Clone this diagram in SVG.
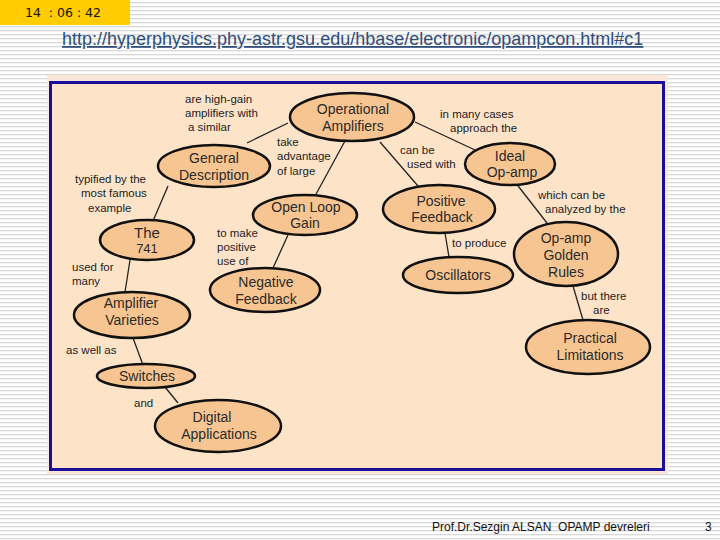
<svg xmlns="http://www.w3.org/2000/svg" width="720" height="540" viewBox="0 0 720 540">
<defs>
<pattern id="stripes" width="4" height="4" patternUnits="userSpaceOnUse">
<rect width="4" height="4" fill="#ffffff"/>
<rect y="2" width="4" height="1.3" fill="#d8d8d8"/>
</pattern>
</defs>
<style>
.node ellipse{fill:#f7c591;stroke:#111;stroke-width:2.5}
.node text{font-family:"Liberation Sans",Arial,sans-serif;font-size:14px;fill:#2a2a2a;text-anchor:middle}
.lbl{font-family:"Liberation Sans",Arial,sans-serif;font-size:11.5px;fill:#222}
#connectors line{stroke:#222;stroke-width:1.3}
</style>
<rect width="720" height="540" fill="url(#stripes)"/>
<rect x="0" y="0" width="130" height="25" fill="#ffcc00"/>
<text x="25" y="17" font-family="'DejaVu Sans',sans-serif" font-size="12.5" fill="#111" xml:space="preserve">14  : 06 : 42</text>
<text x="62" y="45" font-family="'Liberation Sans',Arial,sans-serif" font-size="18" fill="#2f4d7a" text-decoration="underline">http://hyperphysics.phy-astr.gsu.edu/hbase/electronic/opampcon.html#c1</text>
<rect x="47" y="75" width="621" height="399" fill="#fbe6da"/>
<rect x="50.5" y="82.5" width="613" height="387" fill="#fde4c9" stroke="#1a0f9a" stroke-width="3"/>
<g id="connectors">
<line x1="288" y1="123" x2="247" y2="143"/>
<line x1="345" y1="141" x2="315" y2="196"/>
<line x1="380" y1="142" x2="418" y2="186"/>
<line x1="415" y1="122" x2="475" y2="150"/>
<line x1="515" y1="182" x2="547" y2="223"/>
<line x1="445" y1="233" x2="449" y2="257"/>
<line x1="573" y1="286" x2="583" y2="320"/>
<line x1="168" y1="186" x2="153" y2="221"/>
<line x1="288" y1="235" x2="273" y2="268"/>
<line x1="130" y1="260" x2="125" y2="292"/>
<line x1="133" y1="338" x2="143" y2="365"/>
<line x1="165" y1="387" x2="178" y2="403"/>
</g>
<g id="n-opamps" class="node"><ellipse cx="352" cy="117" rx="62" ry="24"/><text x="353" y="114">Operational</text><text x="353" y="131">Amplifiers</text></g>
<g id="n-general" class="node"><ellipse cx="214" cy="166" rx="56" ry="21"/><text x="214" y="163">General</text><text x="214" y="180">Description</text></g>
<g id="n-741" class="node"><ellipse cx="147" cy="240" rx="47" ry="20"/><text x="147" y="238" style="font-size:15px">The</text><text x="147" y="253" style="font-size:13px">741</text></g>
<g id="n-openloop" class="node"><ellipse cx="305" cy="215" rx="52" ry="20"/><text x="306" y="212">Open Loop</text><text x="305" y="228">Gain</text></g>
<g id="n-negfb" class="node"><ellipse cx="265" cy="290" rx="55" ry="22"/><text x="266" y="287">Negative</text><text x="266" y="304">Feedback</text></g>
<g id="n-ampvar" class="node"><ellipse cx="132" cy="315" rx="58" ry="23"/><text x="131" y="308">Amplifier</text><text x="132" y="325">Varieties</text></g>
<g id="n-switches" class="node"><ellipse cx="146" cy="376" rx="49" ry="12"/><text x="147" y="381">Switches</text></g>
<g id="n-digital" class="node"><ellipse cx="218" cy="426" rx="63" ry="26"/><text x="212" y="422">Digital</text><text x="219" y="439">Applications</text></g>
<g id="n-ideal" class="node"><ellipse cx="510" cy="164" rx="45" ry="21"/><text x="510" y="161">Ideal</text><text x="512" y="177">Op-amp</text></g>
<g id="n-posfb" class="node"><ellipse cx="439" cy="209" rx="56" ry="24"/><text x="441" y="206">Positive</text><text x="442" y="222">Feedback</text></g>
<g id="n-golden" class="node"><ellipse cx="566" cy="254" rx="52" ry="32"/><text x="566" y="243">Op-amp</text><text x="566" y="260">Golden</text><text x="566" y="277">Rules</text></g>
<g id="n-osc" class="node"><ellipse cx="458" cy="275" rx="55" ry="18"/><text x="458" y="280">Oscillators</text></g>
<g id="n-practical" class="node"><ellipse cx="588" cy="347" rx="62" ry="27"/><text x="590" y="343">Practical</text><text x="590" y="360">Limitations</text></g>
<g id="labels">
<text class="lbl" x="185" y="103">are high-gain</text>
<text class="lbl" x="185" y="117">amplifiers with</text>
<text class="lbl" x="188" y="131">a similar</text>
<text class="lbl" x="277" y="146">take</text>
<text class="lbl" x="277" y="160">advantage</text>
<text class="lbl" x="277" y="175">of large</text>
<text class="lbl" x="75" y="183">typified by the</text>
<text class="lbl" x="81" y="197">most famous</text>
<text class="lbl" x="88" y="212">example</text>
<text class="lbl" x="217" y="237">to make</text>
<text class="lbl" x="217" y="251">positive</text>
<text class="lbl" x="217" y="265">use of</text>
<text class="lbl" x="72" y="271">used for</text>
<text class="lbl" x="72" y="285">many</text>
<text class="lbl" x="66" y="354">as well as</text>
<text class="lbl" x="134" y="407">and</text>
<text class="lbl" x="440" y="118">in many cases</text>
<text class="lbl" x="450" y="132">approach the</text>
<text class="lbl" x="400" y="154">can be</text>
<text class="lbl" x="407" y="168">used with</text>
<text class="lbl" x="538" y="199">which can be</text>
<text class="lbl" x="545" y="213">analyzed by the</text>
<text class="lbl" x="452" y="247">to produce</text>
<text class="lbl" x="581" y="300">but there</text>
<text class="lbl" x="593" y="314">are</text>
</g>
<text x="432" y="531" font-family="'Liberation Sans',Arial,sans-serif" font-size="12" fill="#111" xml:space="preserve">Prof.Dr.Sezgin ALSAN  OPAMP devreleri</text>
<text x="705" y="531" font-family="'Liberation Sans',Arial,sans-serif" font-size="12" fill="#111">3</text>
</svg>
